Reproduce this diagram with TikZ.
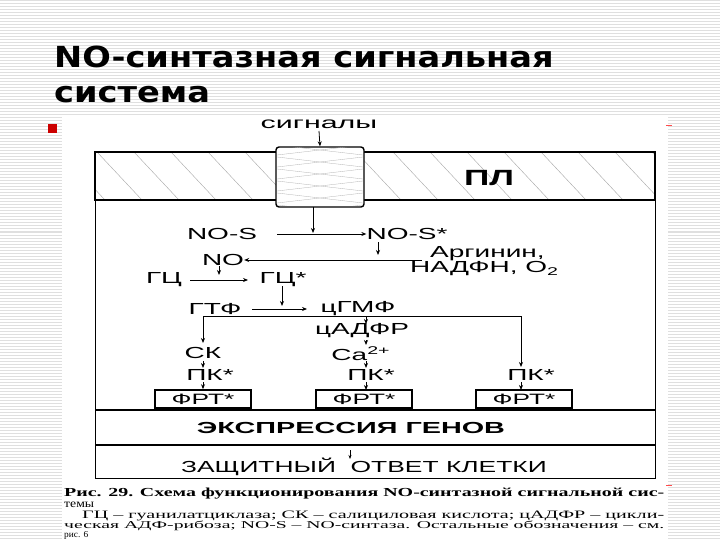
\documentclass[tikz,border=0pt]{standalone}
\usepackage{fontspec}
\setmainfont{Liberation Sans}
\newfontfamily\titlefont{DejaVu Sans}
\newfontfamily\capfont{Liberation Serif}
\usetikzlibrary{arrows.meta}
\newcommand{\W}[1]{\scalebox{1.75}[1]{#1}}
\begin{document}
\begin{tikzpicture}[x=1pt,y=-1pt,
  lbl/.style={inner sep=0pt,font=\fontsize{16}{16}\selectfont},
  arr/.style={-{Stealth[length=5pt,width=4pt]},line width=0.8pt},
  ln/.style={line width=0.8pt},
  frt/.style={draw,line width=1.6pt,minimum width=96pt,minimum height=18pt,inner sep=0pt,font=\fontsize{15}{15}\selectfont},
  capline/.style={anchor=west,inner sep=0pt,font=\capfont\fontsize{10}{10}\selectfont}]
\useasboundingbox (0,0) rectangle (720,540);
\fill[white] (0,0) rectangle (720,540);
\foreach \y in {1,4,...,540} \draw[gray!25,line width=1pt] (0,\y) -- (720,\y);
\fill[white] (62,117) rectangle (668,540);
% title
\node[anchor=west,inner sep=0pt,font=\titlefont\bfseries\fontsize{29}{29}\selectfont] (t1) at (54,57) {\scalebox{1.16}[1]{NO-синтазная сигнальная}};
\node[anchor=west,inner sep=0pt,font=\titlefont\bfseries\fontsize{29}{29}\selectfont] (t2) at (54,95) {\scalebox{1.16}[1]{система}};
\fill[red!80!black] (48,124) rectangle (57,133);
\draw[red!70,line width=0.8pt] (666,125) -- (672,125);
\draw[red!70,line width=0.8pt] (666,485) -- (672,485);
% membrane
\begin{scope}
\clip (95,152) rectangle (655,200);
\foreach \x in {60,97,...,700} \draw[gray!70,line width=0.4pt] (\x,152) -- (\x+45,200);
\end{scope}
\draw[line width=1.8pt] (95,152) rectangle (655,200);
\node[font=\bfseries\fontsize{22}{22}\selectfont,inner sep=0pt] (pl) at (489,178) {\scalebox{1.6}[1]{ПЛ}};
\node[draw,fill=white,line width=1.4pt,rounded corners=3pt,minimum width=88pt,minimum height=60pt,inner sep=0pt] (ch) at (320,177) {};
\begin{scope}
\clip (277,148) rectangle (363,206);
\foreach \y in {145,157,...,210} {
  \draw[gray!60,line width=0.3pt] (277,\y) -- (363,\y+10);
  \draw[gray!60,line width=0.3pt] (277,\y+10) -- (363,\y);}
\end{scope}
\draw[line width=0.5pt] (95,200) -- (95,478) -- (655,478) -- (655,200);
% labels
\node[lbl,font=\fontsize{16}{16}\selectfont] (sig) at (319,124) {\scalebox{1.9}[1]{сигналы}};
\draw[arr] (319,131) -- (ch.north);
\node[lbl] (nos) at (222,234) {\W{NO-S}};
\node[lbl] (noss) at (407,234) {\W{NO-S*}};
\draw[arr] (277,234) -- (noss.west);
\draw[arr] (313,207) -- (313,233);
\node[lbl,anchor=west] (arg) at (430,254) {\W{Аргинин,}};
\node[lbl,anchor=west] (nad) at (410,269) {\W{НАДФН, O\textsubscript{2}}};
\node[lbl] (no) at (223,260) {\W{NO}};
\draw[arr] (378,242) -- (378,255);
\draw[arr] (422,260) -- (no.east);
\node[lbl] (gc) at (164,280) {\W{ГЦ}};
\node[lbl] (gcs) at (283,280) {\W{ГЦ*}};
\draw[arr] (190,280) -- (248,280);
\draw[arr] (219,266) -- (219,275);
\node[lbl] (gtf) at (215,309) {\W{ГТФ}};
\node[lbl] (cgmf) at (358,309) {\W{цГМФ}};
\draw[arr] (252,309) -- (307,309);
\draw[arr] (282,286) -- (282,306);
\node[lbl] (cadfr) at (362,331) {\W{цАДФР}};
\node[lbl] (ca) at (361,354) {\W{Ca\textsuperscript{2+}}};
\node[lbl] (sk) at (203,353) {\W{СК}};
\node[lbl] (pk1) at (210,375) {\W{ПК*}};
\node[lbl] (pk2) at (371,375) {\W{ПК*}};
\node[lbl] (pk3) at (531,375) {\W{ПК*}};
\draw[ln] (203,316) -- (521,316);
\draw[arr] (203,316) -- (203,343);
\draw[arr] (521,316) -- (521,367);
\draw[arr] (366,316) -- (366,324);
\draw[arr] (366,340) -- (366,345);
\draw[arr] (203,361) -- (203,368);
\draw[arr] (366,361) -- (366,368);
\node[frt] (f1) at (203,399) {\W{ФРТ*}};
\node[frt] (f2) at (364,399) {\W{ФРТ*}};
\node[frt] (f3) at (524,399) {\W{ФРТ*}};
\draw[arr] (203,382) -- (f1.north);
\draw[arr] (366,382) -- (366,390);
\draw[arr] (521,382) -- (521,390);
\draw[line width=2.4pt] (95,410) -- (655,410);
\node[lbl,font=\bfseries\fontsize{16}{16}\selectfont] (expr) at (351,428) {\scalebox{1.8}[1]{ЭКСПРЕССИЯ ГЕНОВ}};
\draw[line width=2.4pt] (95,445) -- (655,445);
\node[lbl] (resp) at (364,467) {\scalebox{1.65}[1]{ЗАЩИТНЫЙ \ ОТВЕТ КЛЕТКИ}};
\draw[-{Stealth[length=4pt,width=3pt]},line width=0.6pt] (350,450) -- (350,459);
% caption
\node[capline] (c1) at (64,494) {\resizebox{600pt}{8.5pt}{\bfseries Рис. 29. Схема функционирования NO-синтазной сигнальной сис-}};
\node[capline] (c2) at (64,505) {\resizebox{30pt}{5.5pt}{темы}};
\node[capline] (c3) at (82,516) {\resizebox{582pt}{7.5pt}{ГЦ – гуанилатциклаза; СК – салициловая кислота; цАДФР – цикли-}};
\node[capline] (c4) at (64,526) {\resizebox{600pt}{7.5pt}{ческая АДФ-рибоза; NO-S – NO-синтаза. Остальные обозначения – см.}};
\node[capline] (c5) at (64,535) {\resizebox{24pt}{6pt}{рис. 6}};
\end{tikzpicture}
\end{document}
